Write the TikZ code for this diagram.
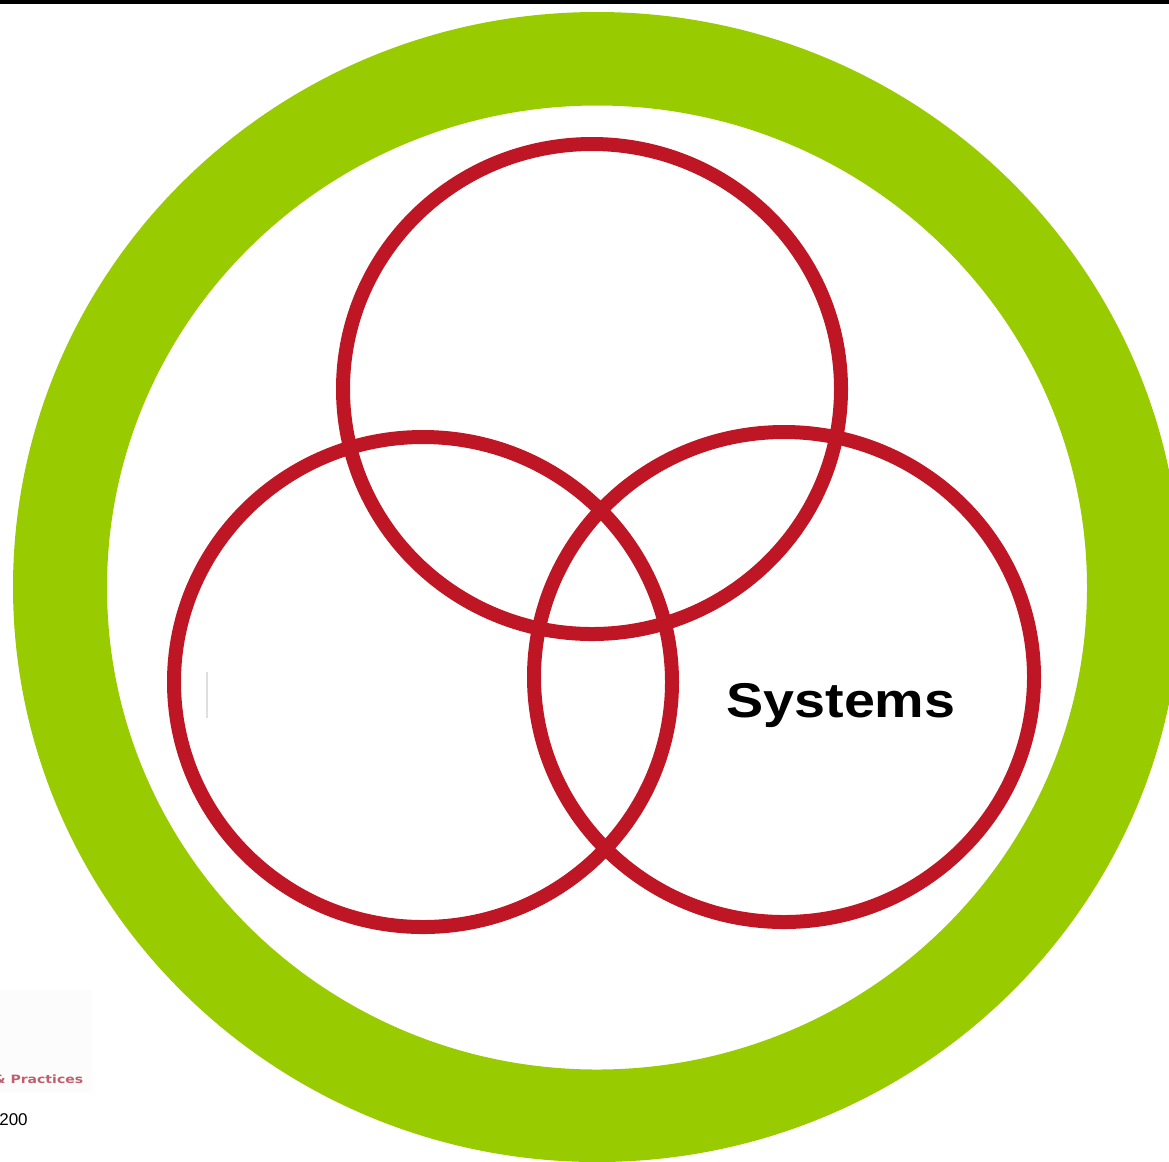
\documentclass[tikz,border=0pt]{standalone}
\usepackage{fontspec}
\setmainfont{Liberation Sans}
\newfontfamily\dejavu{DejaVu Sans}
\definecolor{ringgreen}{RGB}{153,204,0}
\definecolor{vennred}{RGB}{190,22,36}
\definecolor{practred}{RGB}{192,96,108}
\begin{document}
\begin{tikzpicture}[x=0.02cm,y=-0.02cm,
  vennring/.style={draw=vennred,line width=0.28cm},
  plainlabel/.style={inner sep=0,anchor=base west}]
\useasboundingbox (0,0) rectangle (1169,1161);
\clip (0,0) rectangle (1169,1161);
\fill[white] (0,0) rectangle (1169,1161);
\fill[black] (0,0) rectangle (1169,4);
% green ring
\fill[ringgreen,even odd rule] (597,587) ellipse [x radius=584, y radius=575]
  (597,587.5) ellipse [x radius=490, y radius=482];
% venn circles
\draw[vennring] (592,389) ellipse [x radius=249, y radius=245];
\draw[vennring] (423,682) ellipse [x radius=249, y radius=245];
\draw[vennring] (784,677) ellipse [x radius=250, y radius=245];
% faint mark
\draw[gray!25,line width=0.03cm] (207,672) -- (207,718);
% label
\node[plainlabel,name=systems,xscale=1.14,font=\bfseries\fontsize{27.8}{30}\selectfont] at (726,717) {Systems};
% bottom-left remnants
\fill[gray!2] (0,990) rectangle (92,1093);
\node[plainlabel,name=practices,xscale=1.22,text=practred,font=\dejavu\bfseries\fontsize{6.54}{8}\selectfont] at (-7,1083) {\& Practices};
\begin{scope}
\clip (0,1100) rectangle (27,1140);
\node[plainlabel,name=year,font=\fontsize{9.67}{11}\selectfont] at (-1,1125) {200};
\end{scope}
\end{tikzpicture}
\end{document}
